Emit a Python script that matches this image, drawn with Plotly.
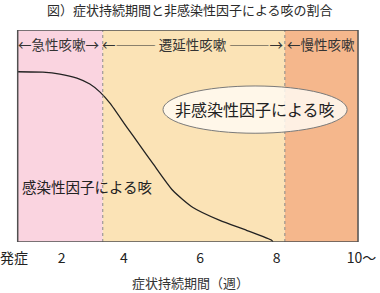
import plotly.graph_objects as go

# ---- data ----
curve_x = [0.0, 0.74, 1.24, 1.74, 2.12, 2.42, 2.71, 3.21, 3.59, 3.97, 4.56, 5.15, 5.94, 6.74, 7.47, 7.50]
curve_y = [80.3, 80.1, 79.2, 77.3, 74.5, 70.7, 65.5, 54.1, 45.6, 37.1, 24.3, 16.3, 10.2, 5.4, 0.7, 0.0]

phase_names = ["←急性咳嗽→", "←―――\u2009遷延性咳嗽\u2009―――→", "←慢性咳嗽"]
phase_bounds = [0.0, 2.50, 7.85, 10.0]
phase_colors = ["#FAD4E0", "#FBE3B6", "#F5B78C"]

tick_pos = [-0.11, 1.29, 3.12, 5.36, 7.61, 10.10]
tick_text = ["発症", "2", "4", "6", "8", "10～"]

FONT = "Noto Sans CJK JP"

fig = go.Figure()

# phase bands
for i in range(3):
    fig.add_shape(type="rect", x0=phase_bounds[i], x1=phase_bounds[i + 1], y0=0, y1=100,
                  fillcolor=phase_colors[i], line_width=0, layer="below")
# dotted boundaries
for b in phase_bounds[1:3]:
    fig.add_shape(type="line", x0=b, x1=b, y0=0, y1=100,
                  line=dict(color="#8a8a8a", width=1, dash="dot"))
# frame
fig.add_shape(type="rect", x0=0, x1=10, y0=0, y1=100,
              line=dict(color="#505050", width=1.5), fillcolor="rgba(0,0,0,0)")

# ellipse
fig.add_shape(type="circle", x0=4.27, x1=9.68, y0=51.3, y1=73.6,
              fillcolor="rgba(255,250,242,0.85)", line=dict(color="#7a7a7a", width=1))

fig.add_trace(go.Scatter(x=curve_x, y=curve_y, mode="lines",
                         line=dict(color="#222222", width=1.3, shape="spline", smoothing=0.6),
                         hoverinfo="skip", showlegend=False))

# phase labels
for i, name in enumerate(phase_names):
    cx = [1.21, 5.14, 8.91][i]
    fig.add_annotation(x=cx, y=93.4, text=name, showarrow=False,
                       font=dict(family=FONT, size=13.5, color="#333333"),
                       xanchor="center", yanchor="middle")

fig.add_annotation(x=6.98, y=62.6, text="非感染性因子による咳", showarrow=False,
                   font=dict(family=FONT, size=16, color="#222222"),
                   xanchor="center", yanchor="middle")
fig.add_annotation(x=0.07, y=26.2, text="感染性因子による咳", showarrow=False,
                   font=dict(family=FONT, size=14.5, color="#222222"),
                   xanchor="left", yanchor="middle")

# title
fig.add_annotation(x=0.5, xref="paper", y=1.095, yref="paper",
                   text="図）症状持続期間と非感染性因子による咳の割合", showarrow=False,
                   font=dict(family=FONT, size=13, color="#2a2a2a"),
                   xanchor="center", yanchor="middle")
# axis title
fig.add_annotation(x=0.5, xref="paper", y=-0.19, yref="paper",
                   text="症状持続期間（週）", showarrow=False,
                   font=dict(family=FONT, size=13, color="#333333"),
                   xanchor="center", yanchor="middle")

fig.update_layout(
    width=380, height=293,
    margin=dict(l=0, r=0, t=30, b=51),
    paper_bgcolor="white", plot_bgcolor="white",
    xaxis=dict(range=[-0.520, 10.646], showgrid=False, zeroline=False, showline=False,
               tickmode="array", tickvals=tick_pos, ticktext=tick_text, ticks="",
               ticklabelstandoff=6, ticklabeloverflow="allow",
               tickfont=dict(family=FONT, size=14, color="#222222"), fixedrange=True),
    yaxis=dict(range=[0, 100], showgrid=False, zeroline=False, showline=False,
               showticklabels=False, fixedrange=True),
    font=dict(family=FONT),
    showlegend=False,
)

fig.write_html("out.html")
